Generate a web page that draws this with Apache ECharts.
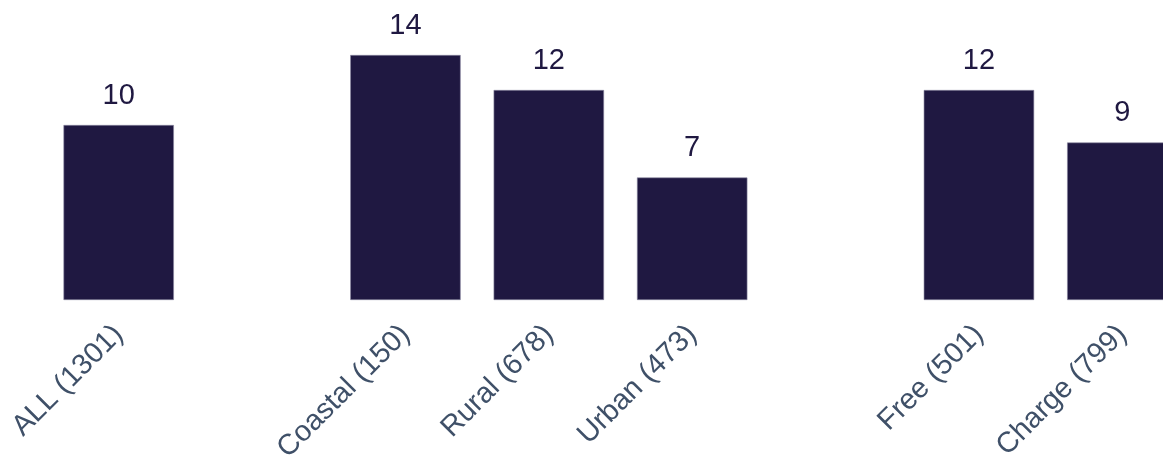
<!DOCTYPE html>
<html>
<head>
<meta charset="utf-8">
<script src="https://cdn.jsdelivr.net/npm/echarts@6/dist/echarts.min.js"></script>
<style>
  html, body { margin: 0; padding: 0; overflow: hidden; background: #ffffff; }
  #chart { width: 1194px; height: 459px; }
</style>
</head>
<body>
<div id="chart"></div>
<script>
// Groups separated by empty spacer categories
const categories = ['ALL (1301)', '', 'Coastal (150)', 'Rural (678)', 'Urban (473)', '', 'Free (501)', 'Charge (799)'];
const values = [10, null, 14, 12, 7, null, 12, 9];

const chart = echarts.init(document.getElementById('chart'), null, { renderer: 'canvas' });
chart.setOption({
  animation: false,
  grid: { left: 47, right: 0, top: 55, bottom: 159, containLabel: false, outerBoundsMode: 'none' },
  xAxis: {
    type: 'category',
    data: categories,
    axisLine: { show: false },
    axisTick: { show: false },
    axisLabel: {
      rotate: 45,
      interval: 0,
      margin: 30,
      color: '#3f5068',
      fontSize: 29,
      fontFamily: 'Liberation Sans, Arial, sans-serif'
    }
  },
  yAxis: {
    type: 'value',
    min: 0,
    max: 14,
    show: false,
    splitLine: { show: false }
  },
  series: [{
    type: 'bar',
    data: values,
    barWidth: '77%',
    itemStyle: { color: '#1f1841', borderColor: '#8a86a0', borderWidth: 0.6 },
    label: {
      show: true,
      position: 'top',
      distance: 15,
      color: '#1f1841',
      fontSize: 29,
      fontFamily: 'Liberation Sans, Arial, sans-serif'
    }
  }]
});
</script>
</body>
</html>
